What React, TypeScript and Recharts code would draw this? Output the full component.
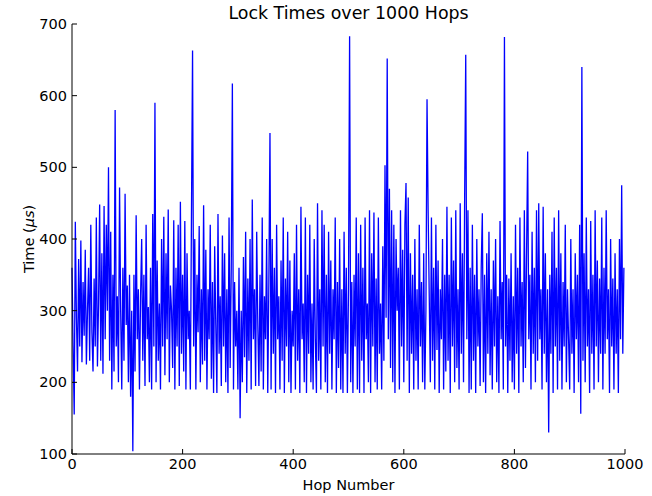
import { Line, LineChart, XAxis, YAxis } from "recharts";

// hop numbers go up in steps of two; one value read per step
const HOP_STEP = 2;

const lockTimes: number[] = [
  360, 250, 155, 424, 290, 215, 372, 250, 398, 228,
  340, 265, 385, 225, 300, 360, 230, 420, 270, 215,
  345, 250, 430, 222, 310, 448, 230, 380, 212, 446,
  260, 420, 300, 500, 230, 410, 190, 350, 215, 580,
  250, 320, 200, 472, 300, 190, 360, 230, 463, 280,
  335, 200, 350, 180, 300, 104, 350, 215, 433, 260,
  330, 190, 320, 400, 230, 350, 195, 420, 260, 305,
  200, 360, 190, 435, 250, 590, 200, 370, 230, 310,
  190, 400, 250, 431, 210, 380, 260, 441, 200, 335,
  300, 220, 426, 190, 360, 250, 420, 195, 452, 240,
  350, 215, 425, 190, 380, 260, 300, 190, 430, 663,
  250, 400, 190, 350, 270, 418, 200, 330, 225, 447,
  230, 385, 190, 330, 260, 420, 205, 340, 185, 390,
  280, 185, 435, 240, 320, 195, 405, 250, 380, 200,
  330, 185, 430, 220, 360, 617, 190, 340, 250, 300,
  190, 360, 150, 300, 200, 375, 235, 410, 185, 345,
  230, 400, 190, 455, 260, 330, 195, 410, 280, 195,
  350, 215, 430, 190, 320, 260, 400, 185, 340, 548,
  190, 400, 240, 360, 185, 420, 260, 320, 190, 370,
  230, 430, 185, 345, 250, 410, 200, 370, 185, 300,
  250, 380, 190, 420, 230, 330, 185, 445, 260, 310,
  200, 430, 185, 350, 240, 420, 200, 310, 190, 400,
  260, 185, 450, 230, 330, 190, 440, 250, 420, 200,
  350, 185, 410, 240, 370, 190, 330, 260, 430, 185,
  340, 220, 400, 190, 330, 185, 410, 240, 360, 185,
  330, 683, 200, 340, 185, 350, 250, 430, 190, 380,
  185, 420, 230, 360, 185, 430, 260, 310, 200, 440,
  185, 380, 250, 437, 200, 345, 190, 430, 240, 310,
  190, 390, 230, 503, 290, 652, 260, 470, 220, 440,
  200, 420, 185, 400, 300, 360, 190, 440, 250, 385,
  200, 420, 478, 230, 458, 185, 380, 240, 350, 190,
  400, 230, 330, 190, 420, 250, 340, 200, 380, 190,
  300, 595, 440, 320, 200, 430, 230, 360, 190, 420,
  245, 370, 185, 330, 260, 400, 190, 350, 215, 445,
  230, 350, 185, 430, 250, 370, 200, 440, 220, 330,
  190, 450, 240, 380, 200, 455, 657, 260, 440, 185,
  360, 190, 420, 230, 350, 185, 400, 250, 330, 195,
  360, 436, 200, 350, 185, 380, 240, 410, 210, 330,
  190, 370, 250, 400, 200, 320, 185, 425, 260, 340,
  190, 682, 250, 350, 185, 345, 230, 380, 200, 320,
  190, 420, 240, 360, 185, 430, 250, 340, 200, 440,
  220, 380, 522, 260, 350, 190, 410, 240, 360, 200,
  440, 230, 450, 260, 330, 190, 445, 240, 380, 200,
  330, 130, 350, 240, 410, 185, 430, 250, 360, 190,
  440, 230, 380, 190, 340, 250, 420, 200, 330, 260,
  190, 400, 240, 330, 185, 380, 260, 350, 200, 420,
  156, 640, 230, 380, 200, 430, 250, 330, 185, 425,
  240, 350, 190, 440, 250, 370, 200, 345, 240, 430,
  190, 360, 240, 440, 260, 330, 185, 400, 250, 345,
  190, 380, 240, 330, 185, 400, 260, 475, 240, 360,
];

const xTicks = [0, 200, 400, 600, 800, 1000];
const yTicks = [100, 200, 300, 400, 500, 600, 700];

const data = lockTimes.map((time, i) => ({ hop: i * HOP_STEP, time }));

const FONT = "DejaVu Sans";
const axisStroke = { stroke: "#000", strokeWidth: 1 };
const tickFont = { fill: "#000", fontSize: 14.5 };

export default function App() {
  return (
    <div
      style={{
        position: "absolute",
        left: 0,
        top: 0,
        width: 652,
        height: 496,
        background: "#fff",
        fontFamily: FONT,
      }}
    >
      <LineChart
        width={652}
        height={496}
        data={data}
        margin={{ top: 24, right: 27, bottom: 0, left: 0 }}
      >
        <XAxis
          xAxisId="bottom"
          dataKey="hop"
          type="number"
          domain={[0, 1000]}
          ticks={xTicks}
          height={42}
          tickSize={-5}
          tickMargin={10}
          axisLine={axisStroke}
          tickLine={axisStroke}
          tick={tickFont}
        />
        <XAxis
          xAxisId="top"
          orientation="top"
          dataKey="hop"
          type="number"
          domain={[0, 1000]}
          ticks={xTicks}
          height={0}
          tickSize={-5}
          axisLine={axisStroke}
          tickLine={axisStroke}
          tick={false}
        />
        <YAxis
          yAxisId="left"
          type="number"
          domain={[100, 700]}
          ticks={yTicks}
          width={72}
          tickSize={-5}
          tickMargin={10}
          axisLine={axisStroke}
          tickLine={axisStroke}
          tick={tickFont}
        />
        <YAxis
          yAxisId="right"
          orientation="right"
          type="number"
          domain={[100, 700]}
          ticks={yTicks}
          width={0}
          tickSize={-5}
          axisLine={axisStroke}
          tickLine={axisStroke}
          tick={false}
        />
        <Line
          xAxisId="bottom"
          yAxisId="left"
          type="linear"
          dataKey="time"
          stroke="#0000ff"
          strokeWidth={1.3}
          dot={false}
          activeDot={false}
          isAnimationActive={false}
        />
      </LineChart>

      <svg
        width={652}
        height={496}
        style={{ position: "absolute", left: 0, top: 0, pointerEvents: "none" }}
      >
        <text x={348.5} y={19} textAnchor="middle" fontSize={17.4} fill="#000">
          Lock Times over 1000 Hops
        </text>
        <text x={348.5} y={490} textAnchor="middle" fontSize={14.5} fill="#000">
          Hop Number
        </text>
        <text
          x={0}
          y={0}
          transform="translate(34 239) rotate(-90)"
          textAnchor="middle"
          fontSize={14.5}
          fill="#000"
        >
          Time (<tspan fontStyle="italic">μs</tspan>)
        </text>
      </svg>
    </div>
  );
}
